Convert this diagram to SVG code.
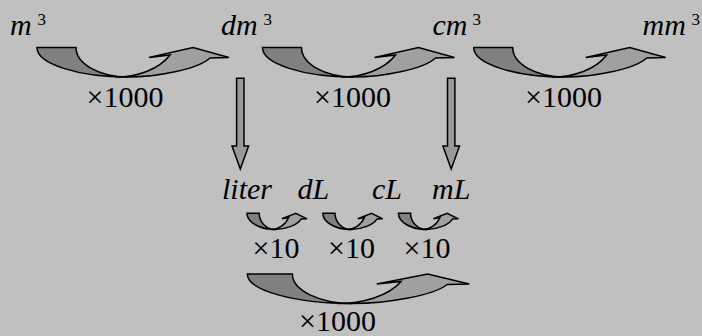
<svg xmlns="http://www.w3.org/2000/svg" width="702" height="336" viewBox="0 0 702 336">
<style>
svg text{font-family:'Liberation Serif',serif !important}
.u{font-style:italic;font-size:30px}
.n{font-size:30px}
.s{font-size:17px}
</style>
<defs>
<g id="curv" stroke="#000" stroke-width="1.5">
<path fill="#a0a0a0" vector-effect="non-scaling-stroke" d="M78,29.5 C100,29.5 122,22 133,7.5 L112,10 L156,0 L192,10 L173,10.5 C160,22 120,29.5 91,29.5 Z"/>
<path fill="#808080" vector-effect="non-scaling-stroke" d="M0,0 H39 A52,29.5 0 0 0 91,29.5 A91,29.5 0 0 1 0,0 Z"/>
</g>
<polygon id="down" fill="#999999" stroke="#000" stroke-width="1.5" points="-3.7,0 3.7,0 3.7,67.7 8.3,67.7 0,90.7 -8.3,67.7 -3.7,67.7"/>
</defs>
<rect width="702" height="336" fill="#c0c0c0"/>
<g id="connectors">
<use href="#curv" transform="translate(37,47.5)"/>
<use href="#curv" transform="translate(262.5,47.5)"/>
<use href="#curv" transform="translate(473.7,47.5)"/>
<use href="#curv" transform="translate(247,213.3) scale(0.3125,0.55)"/>
<use href="#curv" transform="translate(322.8,213.3) scale(0.3125,0.55)"/>
<use href="#curv" transform="translate(398.4,213.3) scale(0.3125,0.55)"/>
<use href="#curv" transform="translate(247.3,274) scale(1.156,1)"/>
<use href="#down" transform="translate(240.3,78.3)"/>
<use href="#down" transform="translate(451.2,78.3)"/>
</g>
<g id="node-m3"><text class="u" style="font-family:'Liberation Serif',serif !important" x="10" y="35">m</text><text class="s" style="font-family:'Liberation Serif',serif !important" x="37.5" y="25">3</text></g>
<g id="node-dm3"><text class="u" style="font-family:'Liberation Serif',serif !important" x="221" y="35">dm</text><text class="s" style="font-family:'Liberation Serif',serif !important" x="263.5" y="25">3</text></g>
<g id="node-cm3"><text class="u" style="font-family:'Liberation Serif',serif !important" x="432.5" y="35">cm</text><text class="s" style="font-family:'Liberation Serif',serif !important" x="472.5" y="25">3</text></g>
<g id="node-mm3"><text class="u" style="font-family:'Liberation Serif',serif !important" x="642.5" y="35">mm</text><text class="s" style="font-family:'Liberation Serif',serif !important" x="691.5" y="25">3</text></g>
<g id="label-1"><text class="n" style="font-family:'Liberation Serif',serif !important" x="125" y="107" text-anchor="middle">×1000</text></g>
<g id="label-2"><text class="n" style="font-family:'Liberation Serif',serif !important" x="352.5" y="107" text-anchor="middle">×1000</text></g>
<g id="label-3"><text class="n" style="font-family:'Liberation Serif',serif !important" x="563.5" y="107" text-anchor="middle">×1000</text></g>
<g id="node-liter"><text class="u" style="font-family:'Liberation Serif',serif !important" x="222" y="199">liter</text></g>
<g id="node-dL"><text class="u" style="font-family:'Liberation Serif',serif !important" x="297.5" y="199">dL</text></g>
<g id="node-cL"><text class="u" style="font-family:'Liberation Serif',serif !important" x="372" y="199">cL</text></g>
<g id="node-mL"><text class="u" style="font-family:'Liberation Serif',serif !important" x="432" y="199">mL</text></g>
<g id="label-4"><text class="n" style="font-family:'Liberation Serif',serif !important" x="276" y="258" text-anchor="middle">×10</text></g>
<g id="label-5"><text class="n" style="font-family:'Liberation Serif',serif !important" x="351.5" y="258" text-anchor="middle">×10</text></g>
<g id="label-6"><text class="n" style="font-family:'Liberation Serif',serif !important" x="427" y="258" text-anchor="middle">×10</text></g>
<g id="label-7"><text class="n" style="font-family:'Liberation Serif',serif !important" x="337.5" y="331" text-anchor="middle">×1000</text></g>
</svg>
